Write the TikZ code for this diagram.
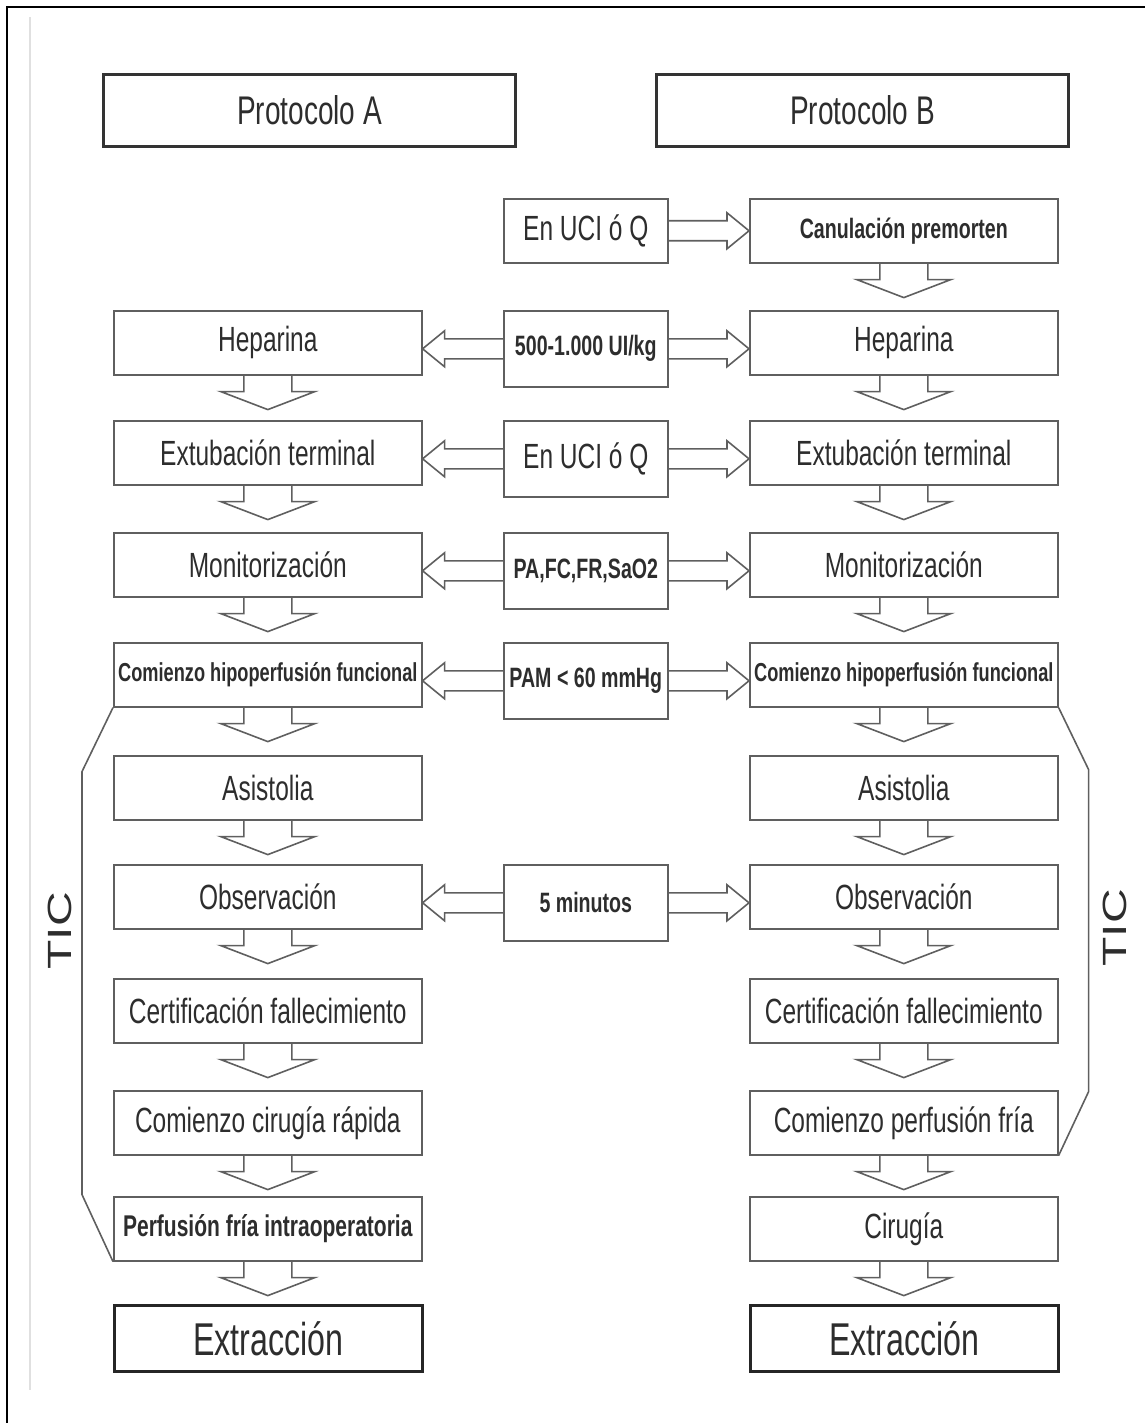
\documentclass[tikz,border=0pt]{standalone}
\usepackage{fontspec}
\usepackage{graphicx}
\usetikzlibrary{calc}
\newfontfamily\narrowsans[FakeStretch=0.7]{Liberation Sans}
\newfontfamily\plainsans{Liberation Sans}
\definecolor{boxgray}{RGB}{95,95,95}
\definecolor{textgray}{RGB}{45,45,45}
\tikzset{
  stepbox/.style={draw=boxgray,line width=0.8pt,minimum width=154pt,minimum height=32pt,inner sep=0pt,anchor=north west,text=textgray,font=\narrowsans\fontsize{17.5}{20}\selectfont},
  midbox/.style={stepbox,minimum width=82pt,minimum height=38pt},
  boldtext/.style={font=\narrowsans\bfseries\fontsize{14}{16}\selectfont},
  headbox/.style={stepbox,draw=black!80,line width=1.5pt,minimum width=206pt,minimum height=36pt,font=\narrowsans\fontsize{20}{24}\selectfont},
  endbox/.style={stepbox,draw=black!85,line width=1.5pt,minimum height=33pt,font=\narrowsans\fontsize{23}{26}\selectfont},
  blockline/.style={draw=boxgray,line width=0.8pt,line join=miter},
  ticline/.style={draw=boxgray,line width=0.8pt},
  ticlabel/.style={rotate=90,text=textgray,font=\plainsans\fontsize{24}{28}\selectfont},
}
% hollow arrow below a box
\newcommand{\downblock}[1]{%
  \draw[blockline] (#1.south) ++(-24,0) -- ++(0,16) -- ++(-23,0) -- ++(47,18) -- ++(47,-18) -- ++(-23,0) -- ++(0,-16);}
% hollow arrow from #1 to the tip #2, #3 = 1 right, -1 left
\newcommand{\sideblock}[3]{%
  \path (#2) coordinate (sbtip);
  \draw[blockline] ($(#1)+(0,-10)$) -- ($(sbtip)+({-22*(#3)},-10)$) -- ($(sbtip)+({-22*(#3)},-18)$) -- (sbtip)
    -- ($(sbtip)+({-22*(#3)},18)$) -- ($(sbtip)+({-22*(#3)},10)$) -- ($(#1)+(0,10)$);}

\begin{document}
\begin{tikzpicture}[x=0.5pt,y=-0.5pt]
\useasboundingbox (0,0) rectangle (1145,1423);
\draw[line width=1pt] (7,1423) -- (7,7) -- (1145,7);
\draw[black!12,line width=1pt] (30,17) -- (30,1390);

\node[headbox] (protA) at (102,73) {Protocolo A};
\node[headbox] (protB) at (655,73) {Protocolo B};

\node[midbox,minimum height=32pt] (uciTop) at (503,198) {En UCI ó Q};
\node[stepbox,boldtext] (canul) at (749,198) {Canulación premorten};

\node[stepbox] (hepA) at (113,310) {Heparina};
\node[midbox,boldtext] (dose) at (503,310) {500-1.000 UI/kg};
\node[stepbox] (hepB) at (749,310) {Heparina};

\node[stepbox] (extA) at (113,420) {Extubación terminal};
\node[midbox] (uciMid) at (503,420) {En UCI ó Q};
\node[stepbox] (extB) at (749,420) {Extubación terminal};

\node[stepbox] (monA) at (113,532) {Monitorización};
\node[midbox,boldtext] (vitals) at (503,532) {PA,FC,FR,SaO2};
\node[stepbox] (monB) at (749,532) {Monitorización};

\node[stepbox,boldtext,font=\narrowsans\bfseries\fontsize{13}{15}\selectfont] (hipoA) at (113,642) {Comienzo hipoperfusión funcional};
\node[midbox,boldtext] (pam) at (503,642) {PAM < 60 mmHg};
\node[stepbox,boldtext,font=\narrowsans\bfseries\fontsize{13}{15}\selectfont] (hipoB) at (749,642) {Comienzo hipoperfusión funcional};

\node[stepbox] (asiA) at (113,755) {Asistolia};
\node[stepbox] (asiB) at (749,755) {Asistolia};

\node[stepbox] (obsA) at (113,864) {Observación};
\node[midbox,boldtext] (fiveMin) at (503,864) {5 minutos};
\node[stepbox] (obsB) at (749,864) {Observación};

\node[stepbox] (certA) at (113,978) {Certificación fallecimiento};
\node[stepbox] (certB) at (749,978) {Certificación fallecimiento};

\node[stepbox] (cirA) at (113,1090) {Comienzo cirugía rápida};
\node[stepbox] (perfB) at (749,1090) {Comienzo perfusión fría};

\node[stepbox,boldtext,font=\narrowsans\bfseries\fontsize{15}{17}\selectfont] (perfA) at (113,1196) {Perfusión fría intraoperatoria};
\node[stepbox] (cirB) at (749,1196) {Cirugía};

\node[endbox] (extrA) at (113,1304) {Extracción};
\node[endbox] (extrB) at (749,1304) {Extracción};

\foreach \n in {hepA,extA,monA,hipoA,asiA,obsA,certA,cirA,perfA,canul,hepB,extB,monB,hipoB,asiB,obsB,certB,perfB,cirB}
  {\downblock{\n}}

\sideblock{uciTop.east}{canul.west |- uciTop.east}{1}
\foreach \m/\a/\b in {dose/hepA/hepB,uciMid/extA/extB,vitals/monA/monB,pam/hipoA/hipoB,fiveMin/obsA/obsB}{
  \sideblock{\m.west}{\a.east |- \m.west}{-1}
  \sideblock{\m.east}{\b.west |- \m.east}{1}
}

% TIC brackets
\draw[ticline] (hipoA.south west) -- ++(-31,64) -- ($(perfA.south west)+(-31,-67)$) -- (perfA.south west);
\draw[ticline] (hipoB.south east) -- ++(30,62) -- ($(perfB.south east)+(30,-64)$) -- (perfB.south east);
\node[ticlabel] (ticA) at (60,931) {\scalebox{1}[0.7]{TIC}};
\node[ticlabel] (ticB) at (1115,928) {\scalebox{1}[0.7]{TIC}};
\end{tikzpicture}
\end{document}
